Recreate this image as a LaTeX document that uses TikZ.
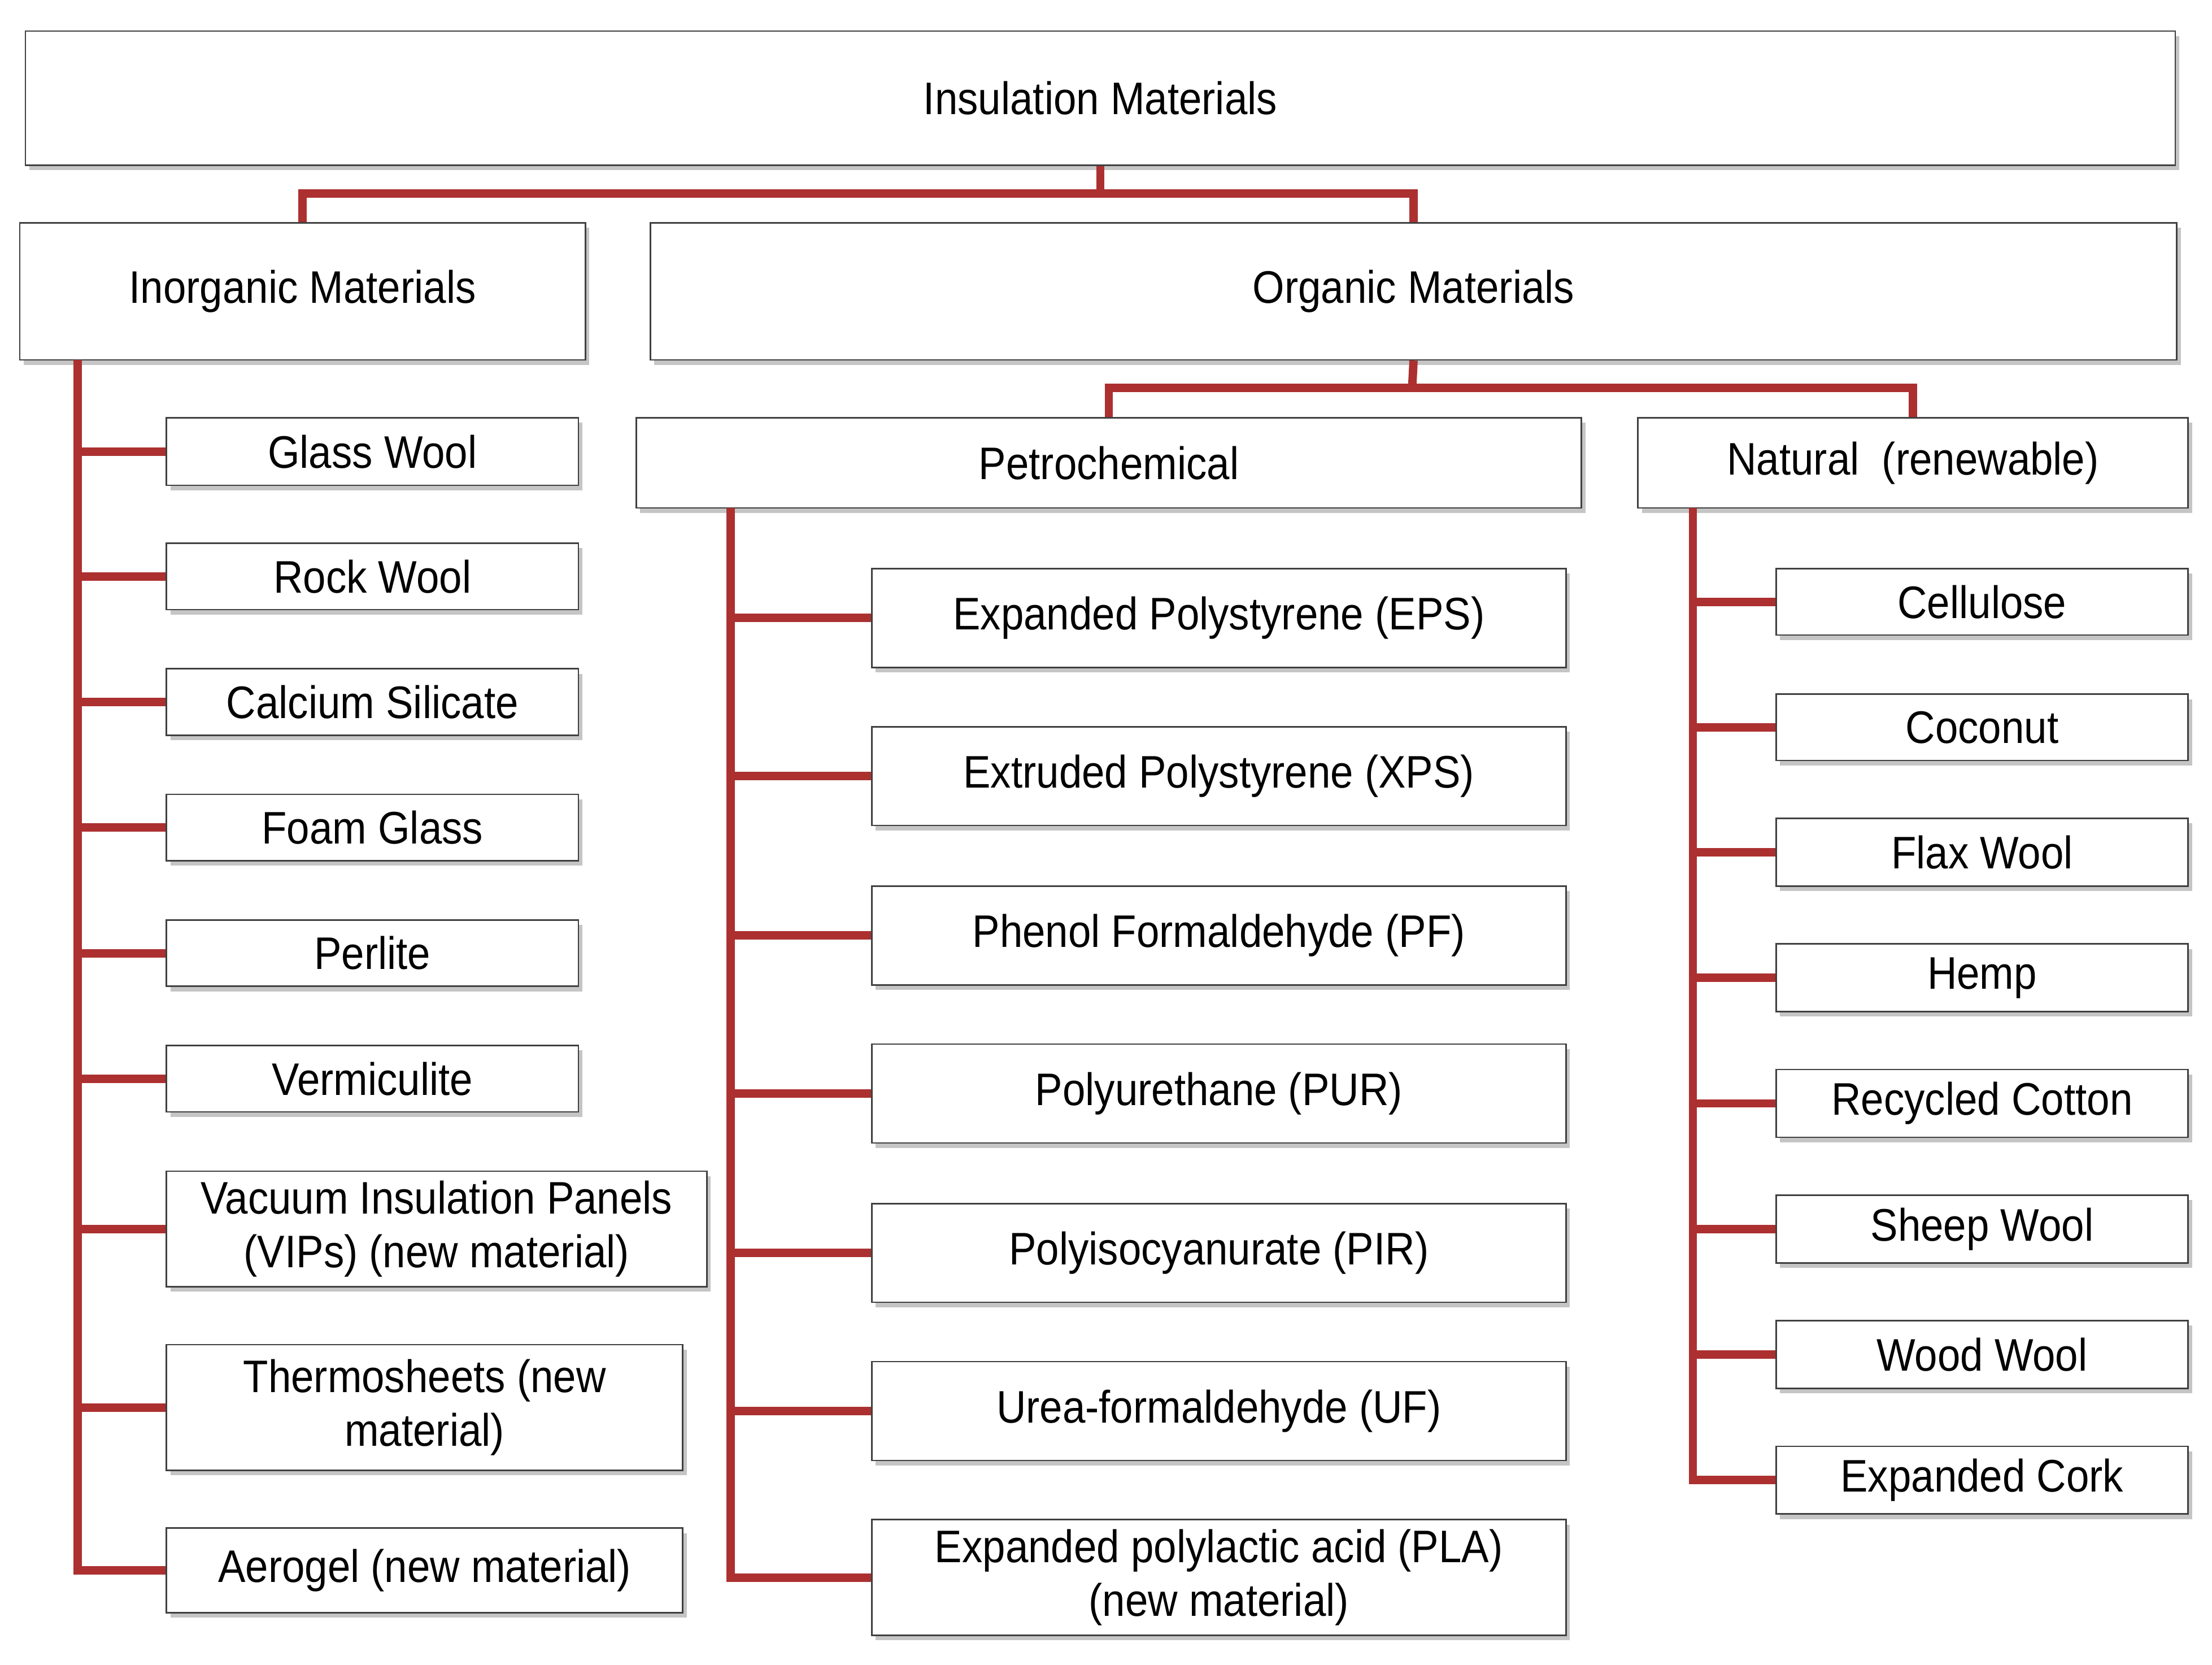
\documentclass[tikz,border=0pt]{standalone}
\usepackage{fontspec}
\setmainfont{Liberation Sans}[FakeStretch=0.9]
\usetikzlibrary{shadows}
\definecolor{lnk}{RGB}{172,48,48}
\begin{document}
\begin{tikzpicture}[x=0.05cm,y=-0.05cm,
  bx/.style={draw=black!75,line width=1.5pt,fill=white,inner sep=0pt,align=center,
    font=\fontsize{46}{54}\selectfont,
    drop shadow={shadow xshift=4pt,shadow yshift=-5pt,fill=black!45}},
  ln/.style={draw=lnk,line width=8.5pt}]
\useasboundingbox (0,0) rectangle (1568,1180);
\newcommand\bx[6]{\node[bx,minimum width={(#4-#2)*0.05cm},minimum height={(#5-#3)*0.05cm}] (#1) at ({(#2+#4)/2},{(#3+#5)/2}) {#6};}
% top
\bx{top}{18}{22}{1542}{117}{Insulation Materials}
\bx{inorg}{14}{158}{415}{255}{Inorganic Materials}
\bx{org}{461}{158}{1543}{255}{Organic Materials}
\bx{petro}{451}{296}{1121}{360}{Petrochemical}
\bx{nat}{1161}{296}{1551}{360}{Natural\ \ (renewable)}
% inorganic
\bx{i1}{118}{296}{410}{344}{Glass Wool}
\bx{i2}{118}{385}{410}{432}{Rock Wool}
\bx{i3}{118}{474}{410}{521}{Calcium Silicate}
\bx{i4}{118}{563}{410}{610}{Foam Glass}
\bx{i5}{118}{652}{410}{699}{Perlite}
\bx{i6}{118}{741}{410}{788}{Vermiculite}
\bx{i7}{118}{830}{501}{912}{Vacuum Insulation Panels\\(VIPs) (new material)}
\bx{i8}{118}{953}{484}{1042}{Thermosheets (new\\material)}
\bx{i9}{118}{1083}{484}{1143}{Aerogel (new material)}
% petro
\bx{p1}{618}{403}{1110}{473}{Expanded Polystyrene (EPS)}
\bx{p2}{618}{515}{1110}{585}{Extruded Polystyrene (XPS)}
\bx{p3}{618}{628}{1110}{698}{Phenol Formaldehyde (PF)}
\bx{p4}{618}{740}{1110}{810}{Polyurethane (PUR)}
\bx{p5}{618}{853}{1110}{923}{Polyisocyanurate (PIR)}
\bx{p6}{618}{965}{1110}{1035}{Urea-formaldehyde (UF)}
\bx{p7}{618}{1077}{1110}{1159}{Expanded polylactic acid (PLA)\\(new material)}
% natural
\bx{n1}{1259}{403}{1551}{450}{Cellulose}
\bx{n2}{1259}{492}{1551}{539}{Coconut}
\bx{n3}{1259}{580}{1551}{628}{Flax Wool}
\bx{n4}{1259}{669}{1551}{717}{Hemp}
\bx{n5}{1259}{758}{1551}{806}{Recycled Cotton}
\bx{n6}{1259}{847}{1551}{895}{Sheep Wool}
\bx{n7}{1259}{936}{1551}{984}{Wood Wool}
\bx{n8}{1259}{1025}{1551}{1073}{Expanded Cork}
% connectors
\coordinate (tj) at (780,137);
\coordinate (oj) at (1001,275);
\coordinate (it) at (55,255);
\coordinate (pt) at (518,360);
\coordinate (nt) at (1200,360);
\begin{scope}[on background layer/.style={}]
\draw[ln] (top.south) -- (tj);
\draw[ln] (tj) -| (inorg.north);
\draw[ln] (tj) -| (org.north);
\draw[ln] (org.south) -- (oj);
\draw[ln] (oj) -| (petro.north);
\draw[ln] (oj) -| (nat.north);
\draw[ln] (it) |- (i9.west);
\foreach \c in {i1,i2,i3,i4,i5,i6,i7,i8} \draw[ln] (\c.west) -- (\c.west -| it);
\draw[ln] (pt) |- (p7.west);
\foreach \c in {p1,p2,p3,p4,p5,p6} \draw[ln] (\c.west) -- (\c.west -| pt);
\draw[ln] (nt) |- (n8.west);
\foreach \c in {n1,n2,n3,n4,n5,n6,n7} \draw[ln] (\c.west) -- (\c.west -| nt);
\end{scope}
\end{tikzpicture}
\end{document}
